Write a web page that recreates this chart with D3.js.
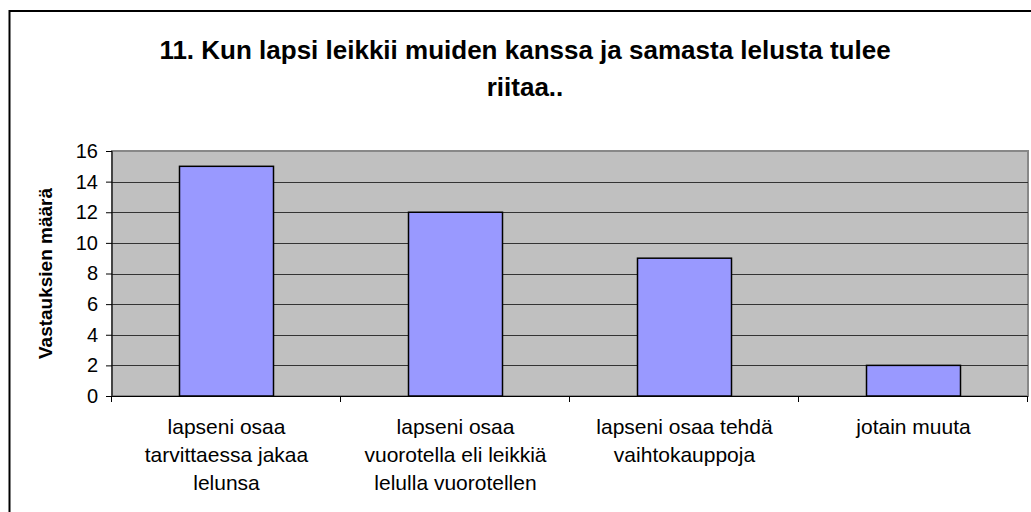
<!DOCTYPE html>
<html>
<head>
<meta charset="utf-8">
<script src="https://cdn.jsdelivr.net/npm/d3@7"></script>
<style>
  body { margin: 0; background: #fff; }
</style>
</head>
<body>
<script>
// values
var categories = [
  ["lapseni osaa", "tarvittaessa jakaa", "lelunsa"],
  ["lapseni osaa", "vuorotella eli leikkiä", "lelulla vuorotellen"],
  ["lapseni osaa tehdä", "vaihtokauppoja"],
  ["jotain muuta"]
];
var values = [15, 12, 9, 2];
var yTicks = [0, 2, 4, 6, 8, 10, 12, 14, 16];
var titleLines = ["11. Kun lapsi leikkii muiden kanssa ja samasta lelusta tulee", "riitaa.."];
var yTitle = "Vastauksien määrä";

var width = 1031, height = 512;
var plot = {left: 112, right: 1028, top: 151, bottom: 396};

var svg = d3.select("body")
  .append("svg")
  .attr("width", width)
  .attr("height", height)
  .style("font-family", "Liberation Sans, Arial, sans-serif");

// outer chart border (only left & top are visible in the crop)
svg.append("rect")
  .attr("x", 9.5)
  .attr("y", 11)
  .attr("width", 1040)
  .attr("height", 520)
  .attr("fill", "#fff")
  .attr("stroke", "#000")
  .attr("stroke-width", 2);

var x = d3.scaleBand()
  .domain(d3.range(categories.length))
  .range([plot.left, plot.right])
  .paddingInner(0)
  .paddingOuter(0);

var y = d3.scaleLinear()
  .domain([0, 16])
  .range([plot.bottom, plot.top]);

// plot background
svg.append("rect")
  .attr("x", plot.left)
  .attr("y", plot.top)
  .attr("width", plot.right - plot.left)
  .attr("height", plot.bottom - plot.top)
  .attr("fill", "#C0C0C0")
  .attr("stroke", "#888")
  .attr("stroke-width", 2);

// gridlines
svg.append("g")
  .selectAll("line")
  .data(yTicks.filter(function(d) { return d > 0 && d < 16; }))
  .enter().append("line")
  .attr("x1", plot.left)
  .attr("x2", plot.right)
  .attr("y1", function(d) { return Math.round(y(d)) + 0.5; })
  .attr("y2", function(d) { return Math.round(y(d)) + 0.5; })
  .attr("stroke", "#333")
  .attr("stroke-width", 1);

// bars
var barW = 94;
svg.append("g")
  .selectAll("rect")
  .data(values)
  .enter().append("rect")
  .attr("x", function(d, i) { return x(i) + x.bandwidth() / 2 - barW / 2; })
  .attr("y", function(d) { return y(d); })
  .attr("width", barW)
  .attr("height", function(d) { return y(0) - y(d); })
  .attr("fill", "#9999FF")
  .attr("stroke", "#000")
  .attr("stroke-width", 1.5);

// y axis
var yAxis = d3.axisLeft(y)
  .tickValues(yTicks)
  .tickSize(6)
  .tickPadding(8);

var gy = svg.append("g")
  .attr("transform", "translate(" + plot.left + ",0)")
  .call(yAxis);
gy.select(".domain").attr("stroke", "#000").attr("d", "M0," + plot.top + "V" + plot.bottom);
gy.selectAll(".tick line").attr("stroke", "#000");
gy.selectAll(".tick text")
  .attr("font-size", "20px")
  .attr("fill", "#000")
  .attr("font-family", "Liberation Sans, Arial, sans-serif");

// x axis line + category boundary ticks
svg.append("line")
  .attr("x1", plot.left)
  .attr("x2", plot.right)
  .attr("y1", plot.bottom + 0.5)
  .attr("y2", plot.bottom + 0.5)
  .attr("stroke", "#000");

var bounds = d3.range(categories.length + 1).map(function(i) {
  return i < categories.length ? x(i) : plot.right;
});
svg.append("g")
  .selectAll("line")
  .data(bounds)
  .enter().append("line")
  .attr("x1", function(d) { return Math.round(d) - 0.5; })
  .attr("x2", function(d) { return Math.round(d) - 0.5; })
  .attr("y1", plot.bottom)
  .attr("y2", plot.bottom + 6)
  .attr("stroke", "#000");

// category labels
var labels = svg.append("g")
  .selectAll("text")
  .data(categories)
  .enter().append("text")
  .attr("text-anchor", "middle")
  .attr("font-size", "21px")
  .attr("fill", "#000");
labels.each(function(lines, i) {
  d3.select(this).selectAll("tspan")
    .data(lines)
    .enter().append("tspan")
    .attr("x", x(i) + x.bandwidth() / 2)
    .attr("y", function(d, j) { return 434 + j * 28; })
    .text(function(d) { return d; });
});

// y axis title
svg.append("text")
  .attr("transform", "translate(52," + ((plot.top + plot.bottom) / 2) + ") rotate(-90)")
  .attr("text-anchor", "middle")
  .attr("font-size", "19px")
  .attr("font-weight", "bold")
  .text(yTitle);

// chart title
svg.append("text")
  .attr("text-anchor", "middle")
  .attr("font-size", "26px")
  .attr("font-weight", "bold")
  .selectAll("tspan")
  .data(titleLines)
  .enter().append("tspan")
  .attr("x", 525)
  .attr("y", function(d, j) { return 59 + j * 37; })
  .text(function(d) { return d; });
</script>
</body>
</html>
